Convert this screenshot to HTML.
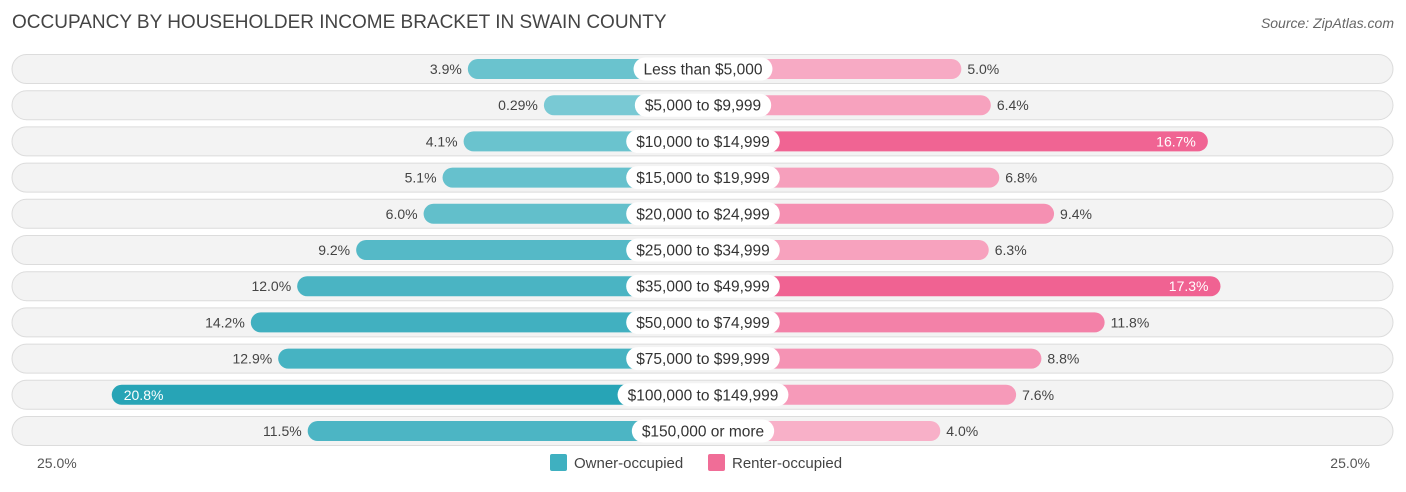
<!DOCTYPE html>
<html><head><meta charset="utf-8"><style>
body{margin:0;width:1406px;height:487px;background:#fff;font-family:"Liberation Sans",sans-serif;overflow:hidden}
</style></head><body>
<svg id="chart" width="1406" height="487" xmlns="http://www.w3.org/2000/svg">
<text x="12" y="28" font-size="19" fill="#444">OCCUPANCY BY HOUSEHOLDER INCOME BRACKET IN SWAIN COUNTY</text>
<text x="1394" y="28" font-size="14" fill="#666" font-style="italic" text-anchor="end">Source: ZipAtlas.com</text>
<g id="rows"></g>
<text x="37" y="468" font-size="14" fill="#555">25.0%</text>
<text x="1370" y="468" font-size="14" fill="#555" text-anchor="end">25.0%</text>
<rect x="550" y="454" width="17" height="17" rx="2" fill="#3fb0c0"/>
<text x="574" y="468" font-size="15" fill="#444">Owner-occupied</text>
<rect x="708" y="454" width="17" height="17" rx="2" fill="#f06d97"/>
<text x="732" y="468" font-size="15" fill="#444">Renter-occupied</text>
</svg>
<script>
const categories=["Less than $5,000","$5,000 to $9,999","$10,000 to $14,999","$15,000 to $19,999","$20,000 to $24,999","$25,000 to $34,999","$35,000 to $49,999","$50,000 to $74,999","$75,000 to $99,999","$100,000 to $149,999","$150,000 or more"];
const owner=[3.9,0.29,4.1,5.1,6.0,9.2,12.0,14.2,12.9,20.8,11.5];
const renter=[5.0,6.4,16.7,6.8,9.4,6.3,17.3,11.8,8.8,7.6,4.0];
const ownerLabels=["3.9%","0.29%","4.1%","5.1%","6.0%","9.2%","12.0%","14.2%","12.9%","20.8%","11.5%"];
const renterLabels=["5.0%","6.4%","16.7%","6.8%","9.4%","6.3%","17.3%","11.8%","8.8%","7.6%","4.0%"];
const NS="http://www.w3.org/2000/svg";
const cx=703,off=153,k=21.07;
function x(v){return off+k*v;}
function y(i){return 69+i*36.2;}
function mix(a,b,t){return "rgb("+a.map((c,j)=>Math.round(c+(b[j]-c)*t)).join(",")+")";}
function oc(v){return mix([122,202,212],[38,164,182],Math.min(1,v/21));}
function rc(v){return mix([248,176,200],[240,98,146],Math.min(1,Math.max(0,(v-4)/13)));}
const g=document.getElementById("rows");
function mk(tag,attrs){const e=document.createElementNS(NS,tag);for(const a in attrs)e.setAttribute(a,attrs[a]);return e;}
categories.forEach((c,i)=>{
 const yc=y(i);
 const bg=mk("rect",{x:12,y:yc-14.5,width:1381,height:29,rx:14.5,fill:"#f3f3f3",stroke:"#dcdcdc"});
 
 
 g.appendChild(bg);
 const wo=x(owner[i]);
 const ob=mk("rect",{x:cx-wo,y:yc-10,width:wo,height:20,rx:10,fill:oc(owner[i])});
 
 
 g.appendChild(ob);
 const wr=x(renter[i]);
 const rb=mk("rect",{x:cx,y:yc-10,width:wr,height:20,rx:10,fill:rc(renter[i])});
 
 
 g.appendChild(rb);
 const inO=owner[i]>15;
 const ot=mk("text",{x:inO?cx-wo+12:cx-wo-6,y:yc+5,"font-size":14,fill:inO?"#fff":"#444","text-anchor":inO?"start":"end"});
 ot.textContent=ownerLabels[i];
 
 
 g.appendChild(ot);
 const inR=renter[i]>15;
 const rt=mk("text",{x:inR?cx+wr-12:cx+wr+6,y:yc+5,"font-size":14,fill:inR?"#fff":"#444","text-anchor":inR?"end":"start"});
 rt.textContent=renterLabels[i];
 
 
 g.appendChild(rt);
 const lt=mk("text",{x:cx,y:yc+5.5,"font-size":15.5,fill:"#333","text-anchor":"middle"});
 lt.textContent=c;
 g.appendChild(lt);
 const w=lt.getComputedTextLength()+20;
 const lb=mk("rect",{x:cx-w/2,y:yc-11.5,width:w,height:23,rx:11.5,fill:"#fff"});
 
 
 g.insertBefore(lb,lt);
 
 
});
</script>
</body></html>
